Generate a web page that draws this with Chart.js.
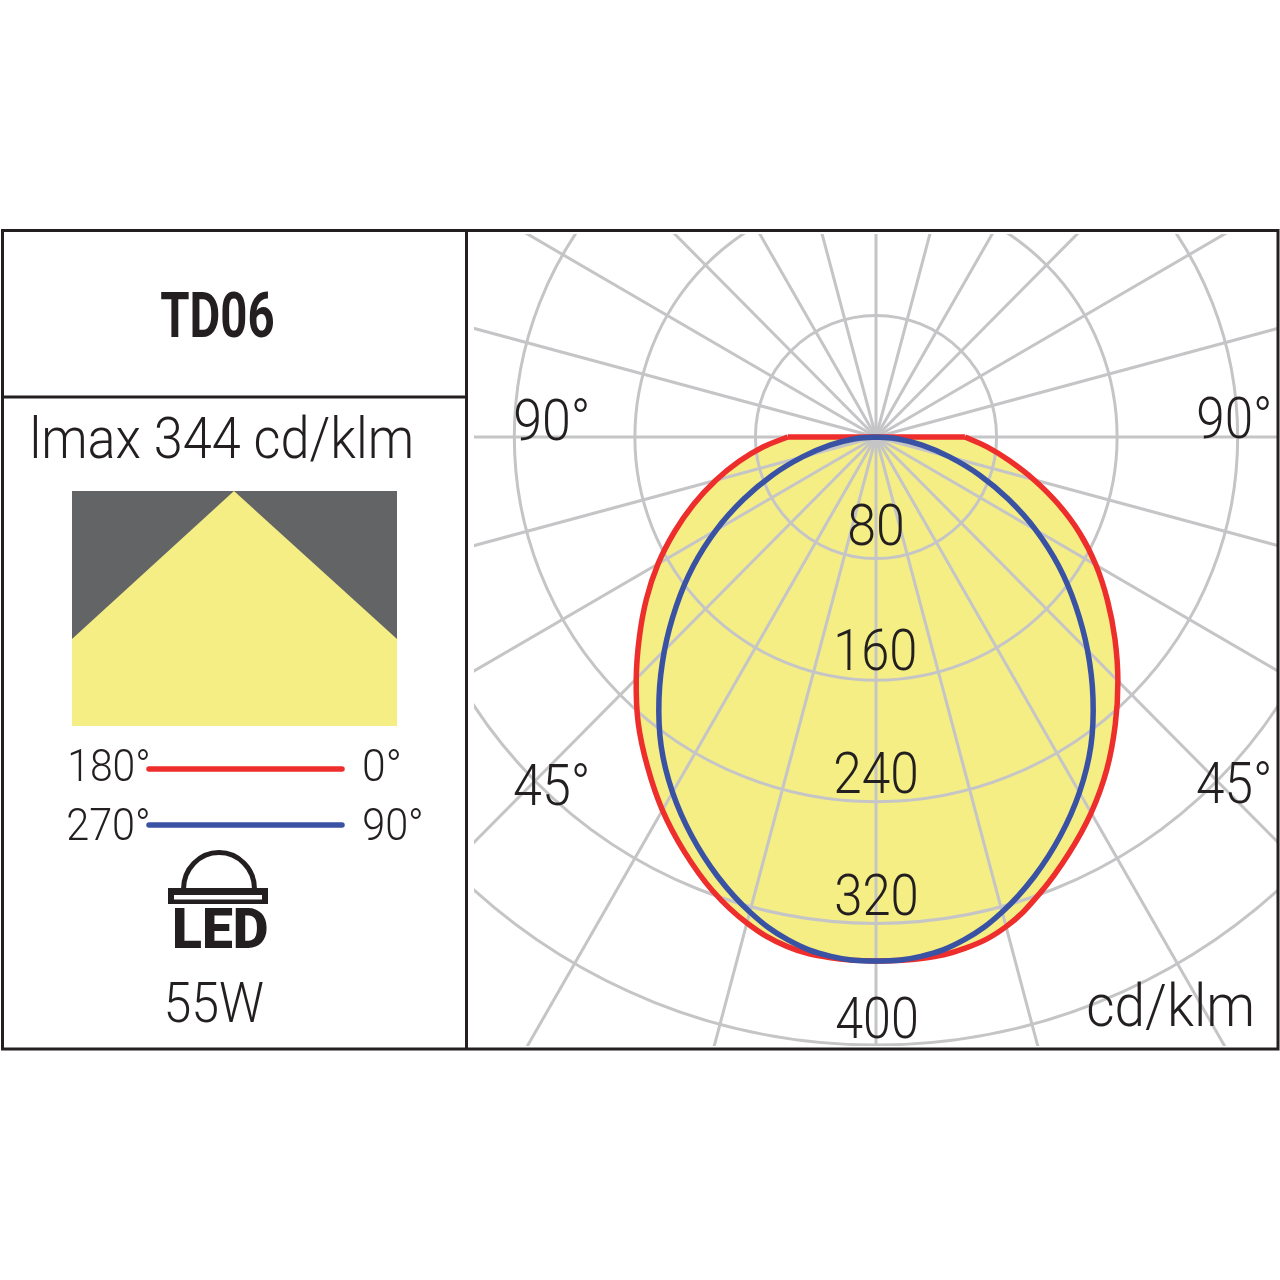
<!DOCTYPE html>
<html>
<head>
<meta charset="utf-8">
<title>TD06</title>
<script src="https://cdn.jsdelivr.net/npm/chart.js@4/dist/chart.umd.min.js"></script>
<style>
html,body{margin:0;padding:0;background:#fff;width:1280px;height:1280px;overflow:hidden}
#chart{position:absolute;left:468px;top:231px}
#overlay{position:absolute;left:0;top:0;pointer-events:none}
</style>
</head>
<body>
<canvas id="chart" width="810" height="817"></canvas>
<svg id="overlay" width="1280" height="1280" xmlns="http://www.w3.org/2000/svg"></svg>
<script>
// ---- data (cd/klm at each polar angle, negative = left half) ----
const angles = [-90,-85,-80,-75,-70,-65,-60,-55,-50,-45,-40,-35,-30,-25,-20,-15,-10,-5,0,
                5,10,15,20,25,30,35,40,45,50,55,60,65,70,75,80,85,90];
const redValues = [58.5,75.3,92.2,110,128.5,147.5,167,186,205,225,245.5,264.5,283.5,301,317.5,331,340.3,344,344.7,
                   344.4,341.5,333.5,319,302.5,285.5,267,247,227,207,187.5,168.5,149,128.5,108.5,90,74,59];
const blueValues = [0,14.8,31,50.5,73,97,122.5,148,173,198.5,224,248.5,270,289.5,307.5,323.5,336,343,344.7,
                    343,336,323.5,307.5,289.5,270,248.5,224,198.5,173,148,122.5,97,73,50.5,31,14.8,0];
const radialTicks = [80,160,240,320,400];
const spokeAngles = [0,15,30,45,60,75,90,105,120,135,150,165,180,195,210,225,240,255,270,285,300,315,330,345];
const tickLift = {80:14,160:10,240:9,320:8,400:7};

const INK = '#231f20', GRID = '#c5c5c7', YELLOW = '#f4ee85', RED = '#ee2e2c', BLUE = '#3a52a4', DARK = '#636466';

function toXY(values){
  return values.map((v,i)=>{
    const t = angles[i]*Math.PI/180;
    return {x:v*Math.sin(t), y:-v*Math.cos(t)};
  });
}
const redPts = toXY(redValues);
const bluePts = toXY(blueValues);
const redTop = [redPts[0], redPts[redPts.length-1]];

const polarGrid = {
  id:'polarGrid',
  afterDatasetDraw(chart,args){
    if(args.index!==0) return;
    const {ctx,scales:{x,y}} = chart;
    const cx=x.getPixelForValue(0), cy=y.getPixelForValue(0);
    ctx.save();
    ctx.beginPath();
    ctx.rect(6,3,803,812);
    ctx.clip();
    ctx.strokeStyle=GRID; ctx.lineWidth=3;
    radialTicks.forEach(r=>{
      const rx=x.getPixelForValue(r)-cx, ry=y.getPixelForValue(-r)-cy;
      ctx.beginPath(); ctx.ellipse(cx,cy,rx,ry,0,0,Math.PI*2); ctx.stroke();
    });
    spokeAngles.forEach(a=>{
      const t=a*Math.PI/180, R=900;
      ctx.beginPath();
      ctx.moveTo(cx,cy);
      ctx.lineTo(x.getPixelForValue(R*Math.sin(t)),y.getPixelForValue(-R*Math.cos(t)));
      ctx.stroke();
    });
    ctx.restore();
  }
};
const tickLabels = {
  id:'tickLabels',
  afterDatasetsDraw(chart){
    const {ctx,scales:{x,y}} = chart;
    const target = {80:52,160:77,240:80,320:80,400:80};
    ctx.save();
    ctx.font='300 58px Roboto';
    ctx.fillStyle=INK;
    ctx.textBaseline='alphabetic';
    radialTicks.forEach(v=>{
      const s=String(v), m=ctx.measureText(s);
      const w=m.actualBoundingBoxLeft+m.actualBoundingBoxRight;
      const sx=target[v]/w;
      const px=x.getPixelForValue(0)-target[v]/2+m.actualBoundingBoxLeft*sx;
      const py=y.getPixelForValue(-v)-tickLift[v];
      ctx.save(); ctx.translate(px,py); ctx.scale(sx,1); ctx.fillText(s,0,0); ctx.restore();
    });
    ctx.restore();
  }
};

new Chart(document.getElementById('chart'),{
  type:'scatter',
  data:{datasets:[
    {label:'fill',data:redPts,showLine:true,fill:'shape',backgroundColor:YELLOW,borderWidth:0,borderColor:'transparent',pointRadius:0,tension:0.4,order:4},
    {label:'180°–0°',data:redPts,showLine:true,fill:false,borderColor:RED,borderWidth:5.5,pointRadius:0,tension:0.4,borderJoinStyle:'round',order:3},
    {label:'180°–0° top',data:redTop,showLine:true,fill:false,borderColor:RED,borderWidth:5.5,pointRadius:0,order:2},
    {label:'270°–90°',data:bluePts,showLine:true,fill:false,borderColor:BLUE,borderWidth:5.5,pointRadius:0,tension:0.4,borderJoinStyle:'round',order:1}
  ]},
  options:{
    responsive:false,animation:false,
    layout:{padding:0},
    plugins:{legend:{display:false},tooltip:{enabled:false}},
    scales:{
      x:{type:'linear',display:false,min:-408/1.507,max:402/1.507},
      y:{type:'linear',display:false,min:-611/1.52,max:206/1.52}
    }
  },
  plugins:[polarGrid,tickLabels]
});

// ---- panel furniture and labels ----
const svg=document.getElementById('overlay');
const NS='http://www.w3.org/2000/svg';
function el(n,attrs,txt){
  const e=document.createElementNS(NS,n);
  for(const k in attrs) e.setAttribute(k,attrs[k]);
  if(txt!==undefined) e.textContent=txt;
  svg.appendChild(e); return e;
}
const mc=document.createElement('canvas').getContext('2d');
function label(s,x0,x1,base,size,weight){
  const font=`${weight} ${size}px Roboto`;
  mc.font=font;
  const m=mc.measureText(s);
  const sx=(x1-x0)/(m.actualBoundingBoxLeft+m.actualBoundingBoxRight);
  const tx=x0+m.actualBoundingBoxLeft*sx;
  el('text',{transform:`translate(${tx},${base}) scale(${sx},1)`,'font-family':'Roboto','font-size':size,'font-weight':weight,fill:INK},s);
}
// frame
el('rect',{x:2.5,y:230.5,width:1275.5,height:818.5,fill:'none',stroke:INK,'stroke-width':3});
el('line',{x1:466.5,y1:230,x2:466.5,y2:1049,stroke:INK,'stroke-width':3});
el('line',{x1:2,y1:397,x2:466,y2:397,stroke:INK,'stroke-width':3});
// beam
el('rect',{x:72,y:491,width:325,height:235,fill:DARK});
el('polygon',{points:'72,639 234,491 397,639 397,726 72,726',fill:YELLOW});
// legend lines
el('line',{x1:149,y1:769,x2:342,y2:769,stroke:RED,'stroke-width':5.5,'stroke-linecap':'round'});
el('line',{x1:149,y1:825,x2:342,y2:825,stroke:BLUE,'stroke-width':5.5,'stroke-linecap':'round'});
// LED icon
el('path',{d:'M183.5 889 A35.5 36.5 0 0 1 254.5 889',fill:'none',stroke:INK,'stroke-width':5});
el('rect',{x:168,y:888,width:100,height:16,fill:INK});
el('rect',{x:174,y:895,width:88,height:4.5,fill:'#fff'});
// text
label('TD06',161,273,337,63,700);
label('lmax 344 cd/klm',33,411,458,58,300);
label('180°',70,148,781,45,300);
label('0°',364,399,781,45,300);
label('270°',68,148,840,45,300);
label('90°',364,421,840,45,300);
label('LED',174,267,948,55,900);
label('55W',167,263,1022,56,300);
label('90°',515,587,440,58,300);
label('90°',1198,1269,438,58,300);
label('45°',514,587,805,58,300);
label('45°',1197,1269,803,58,300);
label('cd/klm',1088,1252,1026,59,300);
</script>
</body>
</html>
